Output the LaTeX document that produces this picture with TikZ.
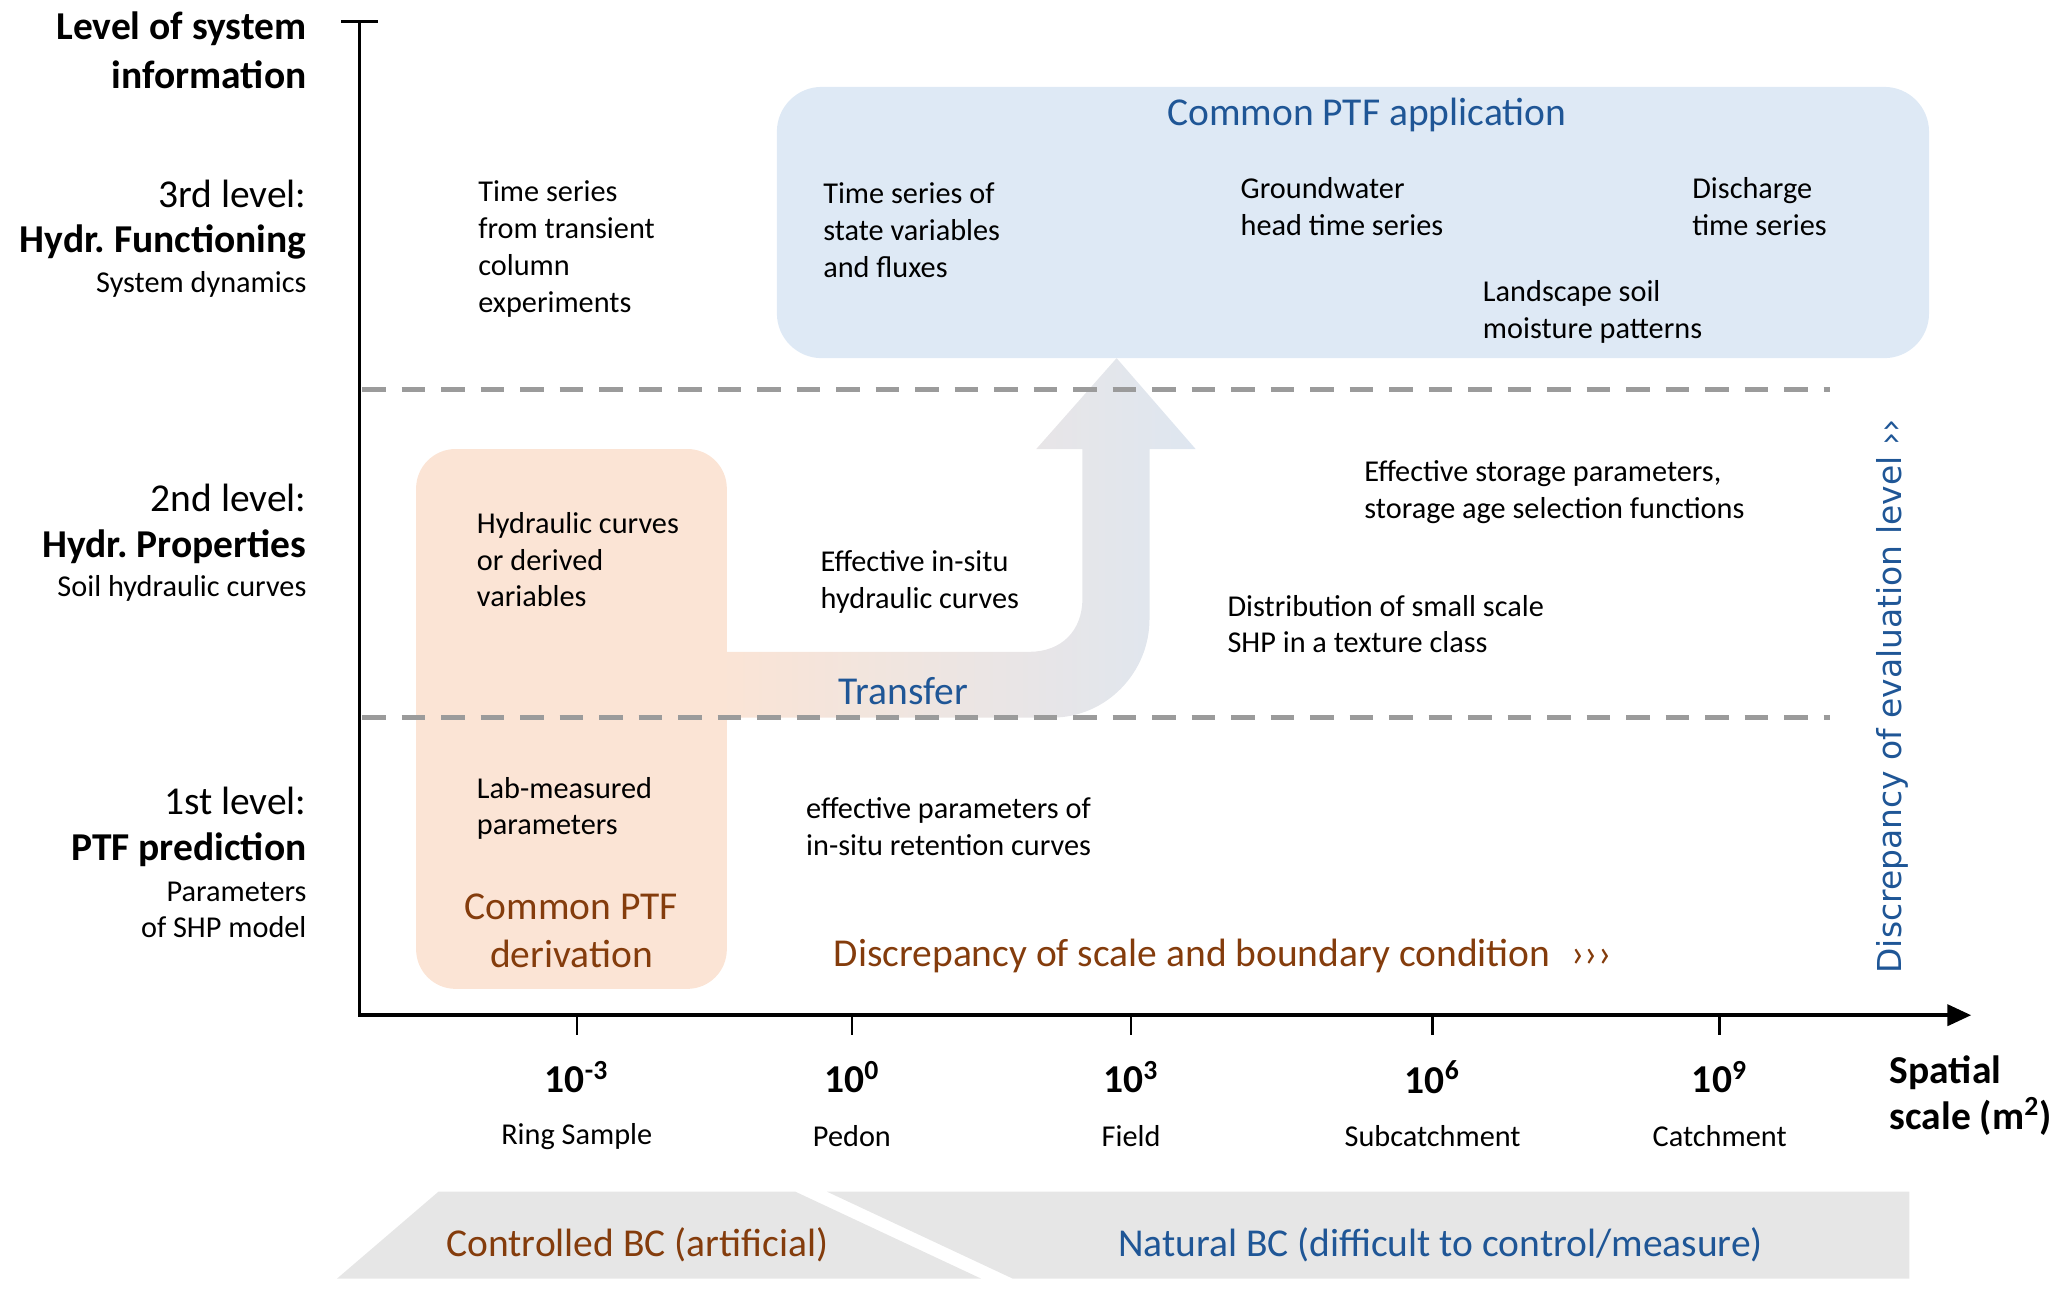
\documentclass[tikz,border=0pt]{standalone}
\usepackage{fontspec}
\setmainfont{Carlito}
\newfontfamily\evalfont{DejaVu Sans}
\usetikzlibrary{arrows.meta}

\definecolor{ptfblue}{RGB}{31,86,150}
\definecolor{ptfbrown}{RGB}{132,60,12}
\definecolor{appfill}{RGB}{222,233,245}
\definecolor{derivfill}{RGB}{251,228,213}
\definecolor{arrowblue}{RGB}{222,230,240}
\definecolor{bandgrey}{RGB}{230,230,230}
\definecolor{dashgrey}{RGB}{155,155,155}

\tikzset{every picture/.style={line width=0.75pt}}
\tikzset{
  bodytxt/.style={anchor=west, align=left, inner sep=0.75pt, font=\fontsize{11.5}{14}\selectfont},
  leveltxt/.style={anchor=east, align=right, inner sep=0.75pt, font=\fontsize{15}{18.5}\selectfont},
  levelbold/.style={leveltxt, font=\fontsize{15}{18.5}\selectfont\bfseries},
  levelsub/.style={leveltxt, font=\fontsize{11.5}{14}\selectfont},
  keytxt/.style={inner sep=0.75pt, align=center, font=\fontsize{15}{18.5}\selectfont},
  levdash/.style={dashgrey, line width=1.8pt, dash pattern=on 9pt off 6pt},
}

\begin{document}
\begin{tikzpicture}[x=0.5pt,y=0.5pt,yscale=-1,xscale=1]
        \useasboundingbox (0,0) rectangle (1566,983);

        %Shape: Bottom bands
        \fill [bandgrey] (256,971) -- (333,905) -- (604,905) -- (745,971) -- cycle;
        \fill [bandgrey] (628,905) -- (1450,905) -- (1450,971) -- (769,971) -- cycle;

        %Shape: Application box
        \fill [appfill, rounded corners=17pt] (590,66) rectangle (1465,272);

        %Shape: Transfer arrow
        \shade [left color=derivfill, right color=arrowblue] (545,495) -- (782,495) .. controls (806,495) and (822,479) .. (822,455) -- (822,341) -- (787,341) -- (848,272) -- (908,341) -- (873,341) -- (873,470) .. controls (873,511) and (840,545) .. (799,545) -- (545,545) -- cycle;

        %Shape: Derivation box
        \fill [derivfill, rounded corners=15pt] (316,341) rectangle (552,751);

        %Straight Lines: level borders
        \draw [levdash] (275,296) -- (1390,296);
        \draw [levdash] (275,545) -- (1390,545);

        %Shape: Axis 2D
        \coordinate (ytop) at (273,15);
        \coordinate (origin) at (273,771);
        \coordinate (xend) at (1497,771);
        \draw [line width=1.3pt, {Bar[width=14pt]}-{Triangle[length=9pt,width=8pt]}] (ytop) -- (origin) -- (xend);

        % Ticks and scale labels
        \foreach \x/\e/\name [count=\i] in {438/-3/Ring Sample, 647/0/Pedon, 859/3/Field, 1088/6/Subcatchment, 1306/9/Catchment}{
          \draw [line width=0.9pt] (\x,771) -- (\x,786);
          \draw (\x,818) node [keytxt, font=\fontsize{15}{18}\selectfont\bfseries] (exp\i) {10\textsuperscript{\e}};
          \draw (\x,863) node [bodytxt, anchor=center] (scale\i) {\name};
        }

        % Text Node
        \draw (235,38) node [levelbold] (info) {Level of system\\information};
        % Text Node
        \draw (235,147) node [leveltxt] (lvlthree) {3rd level:};
        \draw (235,184) node [levelbold] (lvlthreename) {Hydr.\ Functioning};
        \draw (235,216) node [levelsub] (lvlthreesub) {System dynamics};
        % Text Node
        \draw (235,378) node [leveltxt] (lvltwo) {2nd level:};
        \draw (235,415) node [levelbold] (lvltwoname) {Hydr.\ Properties};
        \draw (235,447) node [levelsub] (lvltwosub) {Soil hydraulic curves};
        % Text Node
        \draw (235,608) node [leveltxt] (lvlone) {1st level:};
        \draw (235,645) node [levelbold] (lvlonename) {PTF prediction};
        \draw (235,691) node [levelsub] (lvlonesub) {Parameters\\of SHP model};

        % Text Node
        \draw (1038,87) node [keytxt, text=ptfblue] (apptitle) {Common PTF application};
        % Text Node
        \draw (361,189) node [bodytxt] (colexp) {Time series\\from transient\\column\\experiments};
        % Text Node
        \draw (623,175) node [bodytxt] (statevar) {Time series of\\state variables\\and fluxes};
        % Text Node
        \draw (940,157) node [bodytxt] (gwhead) {Groundwater\\head time series};
        % Text Node
        \draw (1283,157) node [bodytxt] (discharge) {Discharge\\time series};
        % Text Node
        \draw (1124,237) node [bodytxt] (landscape) {Landscape soil\\moisture patterns};
        % Text Node
        \draw (360,425) node [bodytxt] (hydcurves) {Hydraulic curves\\or derived\\variables};
        % Text Node
        \draw (621,442) node [bodytxt] (insitu) {Effective in-situ\\hydraulic curves};
        % Text Node
        \draw (1034,374) node [bodytxt] (storage) {Effective storage parameters,\\storage age selection functions};
        % Text Node
        \draw (930,474) node [bodytxt] (distrib) {Distribution of small scale\\SHP in a texture class};
        % Text Node
        \draw (686,525) node [keytxt, text=ptfblue] (transfer) {Transfer};
        % Text Node
        \draw (360,614) node [bodytxt] (labmeas) {Lab-measured\\parameters};
        % Text Node
        \draw (610,628) node [bodytxt] (retention) {effective parameters of\\in-situ retention curves};
        % Text Node
        \draw (434,707) node [keytxt, text=ptfbrown] (derivation) {Common PTF\\derivation};
        % Text Node
        \draw (631,726) node [keytxt, anchor=west, text=ptfbrown] (scalebc) {Discrepancy of scale and boundary condition\hspace{8pt}›››};
        % Text Node
        \draw (1437,529) node [rotate=90, inner sep=0.75pt, text=ptfblue, font=\evalfont\fontsize{12.5}{14}\selectfont] (evallevel) {Discrepancy of evaluation level ››};
        % Text Node
        \draw (1433,832) node [bodytxt, font=\fontsize{15}{17.5}\selectfont\bfseries] (spatial) {Spatial\\scale (m\textsuperscript{2})};
        % Text Node
        \draw (484,945) node [keytxt, text=ptfbrown] (ctrlbc) {Controlled BC (artificial)};
        % Text Node
        \draw (1094,945) node [keytxt, text=ptfblue] (natbc) {Natural BC (difficult to control/measure)};

\end{tikzpicture}
\end{document}
